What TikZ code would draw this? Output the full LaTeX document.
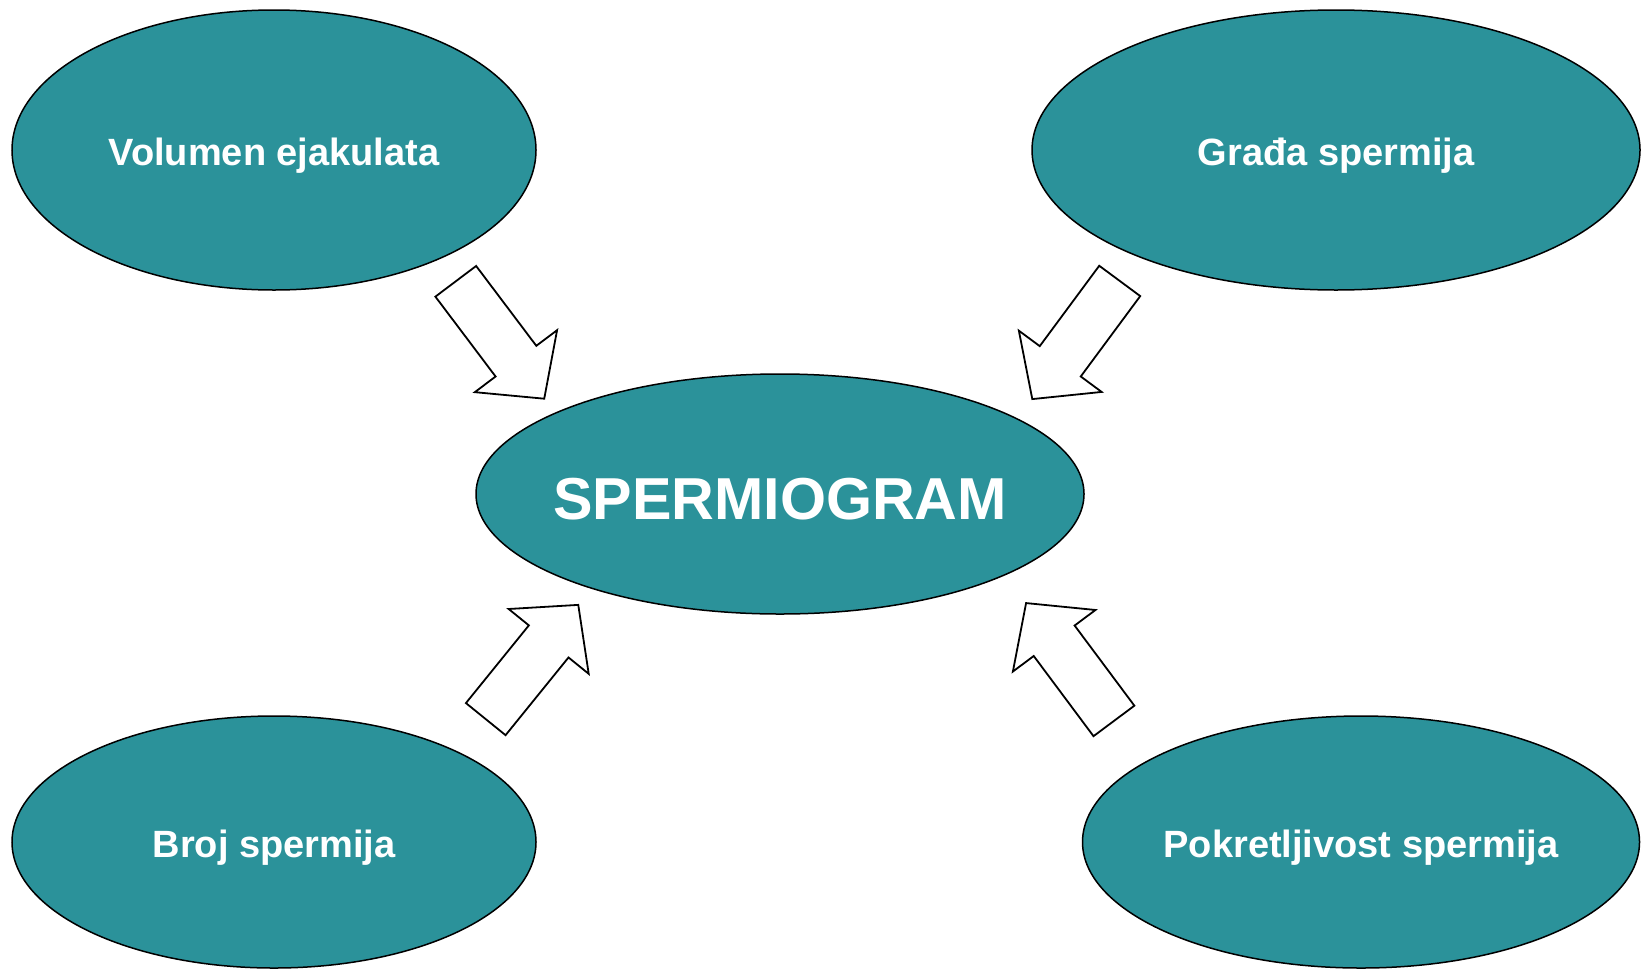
\documentclass[tikz,border=0pt]{standalone}
\usepackage{fontspec}
\setmainfont{Liberation Sans}
\usepackage{tikz}
\usetikzlibrary{shapes,positioning,calc}

\definecolor{spermteal}{RGB}{43,146,154}

\tikzset{
  topic/.style={shape=ellipse,draw=black,line width=0.75pt,fill=spermteal,
    text=white,inner sep=0pt,text height=15pt,text depth=0pt,
    font=\fontsize{19}{22}\selectfont\bfseries},
  hub/.style={topic,text height=25pt,font=\fontsize{29.6}{34}\selectfont\bfseries},
  bigarrow/.style={draw=black,line width=0.9pt,fill=white,line join=miter}
}

\begin{document}
\begin{tikzpicture}[x=0.5pt,y=-0.5pt]
    \useasboundingbox (0,0) rectangle (1641,969);

    % fields
    \node[topic,minimum width=262pt,minimum height=140pt] (volumen) at (274,150) {Volumen ejakulata};
    \node[topic,minimum width=304pt,minimum height=140pt] (grada) at (1336,150) {Građa spermija};
    \node[hub,minimum width=304pt,minimum height=120pt] (sperm) at (780,494) {\makebox[0pt]{SPERMIOGRAM}};
    \node[topic,minimum width=262pt,minimum height=126pt] (broj) at (274,842) {Broj spermija};
    \node[topic,minimum width=278.5pt,minimum height=126pt] (pokret) at (1361,842) {\makebox[0pt]{Pokretljivost spermija}};

    % arrows towards the centre
    \foreach \cx/\cy/\ang in {500/340/-53, 1076/340/-126.5, 532/662/51, 1070/662/126.7} {
      \begin{scope}[shift={(\cx,\cy)},rotate=\ang]
        \draw[bigarrow] (-73.5,25.5) -- (26.5,25.5) -- (26.5,51.5) -- (73.5,0)
          -- (26.5,-51.5) -- (26.5,-25.5) -- (-73.5,-25.5) -- cycle;
      \end{scope}
    }

\end{tikzpicture}
\end{document}
